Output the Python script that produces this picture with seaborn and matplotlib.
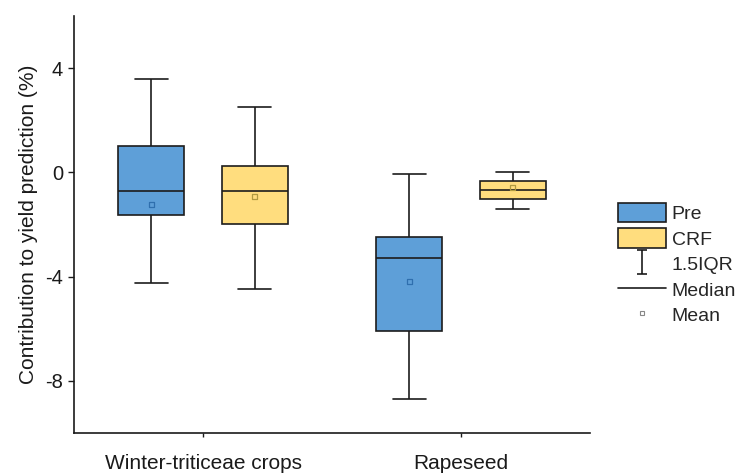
import numpy as np
import pandas as pd
import matplotlib
matplotlib.use("Agg")
import matplotlib.pyplot as plt
from matplotlib.patches import Patch
from matplotlib.lines import Line2D
from matplotlib.path import Path
import seaborn as sns

# ---- data ----
crops = ["Winter-triticeae crops", "Rapeseed"]
series = ["Pre", "CRF"]
# five-number summaries per crop: [lower whisker, Q1, median, Q3, upper whisker]
pre_summary = [[-4.24, -1.63, -0.72, 1.00, 3.58],
               [-8.68, -6.10, -3.29, -2.49, -0.06]]
crf_summary = [[-4.49, -1.97, -0.72, 0.24, 2.51],
               [-1.40, -1.00, -0.66, -0.33, 0.02]]
pre_mean = [-1.23, -4.18]
crf_mean = [-0.92, -0.58]
yticks = [-8, -4, 0, 4]

box_colors = {"Pre": "#5E9FD8", "CRF": "#FFDD7E"}
mean_colors = {"Pre": "#2F6FAE", "CRF": "#B09A40"}

rows = []
for s, summ in zip(series, [pre_summary, crf_summary]):
    for c, vals in zip(crops, summ):
        for v in vals:
            rows.append({"crop": c, "series": s, "value": v})
df = pd.DataFrame(rows)

mrows = []
for s, means in zip(series, [pre_mean, crf_mean]):
    for c, m in zip(crops, means):
        mrows.append({"crop": c, "series": s, "value": m})
dfm = pd.DataFrame(mrows)

sns.set_theme(style="ticks")
plt.rcParams["font.family"] = ["Liberation Sans", "DejaVu Sans"]

fig = plt.figure(figsize=(7.44, 4.74), dpi=100)
ax = fig.add_axes([0.0995, 0.0865, 0.6935, 0.8795])

sns.boxplot(data=df, x="crop", y="value", hue="series", order=crops,
            hue_order=series, palette=box_colors, saturation=1, whis=(0, 100),
            width=0.8, gap=0.36, linecolor="#1c1c1c", linewidth=1.2,
            fliersize=0, legend=False, ax=ax)

n_before = len(ax.collections)
sns.stripplot(data=dfm, x="crop", y="value", hue="series", order=crops,
              hue_order=series, palette=mean_colors, marker="s", size=4,
              jitter=False, dodge=True, legend=False, ax=ax, zorder=6)
for coll in ax.collections[n_before:]:
    fc = coll.get_facecolors()
    coll.set_edgecolors(fc)
    coll.set_facecolors("none")
    coll.set_linewidths(0.9)

ax.set_ylim(-10, 6)
ax.set_xlim(-0.5, 1.5)
ax.set_yticks(yticks)
ax.set_yticklabels([str(t) for t in yticks])
ax.set_xlabel("")
ax.set_ylabel("Contribution to yield prediction (%)", fontsize=15,
              color="#1a1a1a", labelpad=5)
ax.tick_params(axis="y", labelsize=14.5, colors="#1a1a1a", length=4, width=1, pad=4)
ax.tick_params(axis="x", labelsize=15, colors="#1a1a1a", length=3, width=1, pad=12)
for sp in ["left", "bottom"]:
    ax.spines[sp].set_linewidth(1.2)
    ax.spines[sp].set_color("#1a1a1a")
sns.despine(ax=ax)

ibeam = Path([(-0.45, 1), (0.45, 1), (0, 1), (0, -1), (-0.45, -1), (0.45, -1)],
             [Path.MOVETO, Path.LINETO, Path.MOVETO, Path.LINETO, Path.MOVETO, Path.LINETO])
handles = [
    Patch(facecolor=box_colors["Pre"], edgecolor="#1c1c1c", linewidth=1.2),
    Patch(facecolor=box_colors["CRF"], edgecolor="#1c1c1c", linewidth=1.2),
    Line2D([], [], linestyle="none", marker=ibeam, markersize=17,
           markeredgecolor="#1c1c1c", markerfacecolor="none", markeredgewidth=1.2),
    Line2D([], [], color="#1c1c1c", linewidth=1.2),
    Line2D([], [], linestyle="none", marker="s", markersize=3.5,
           markeredgecolor="#888888", markerfacecolor="none", markeredgewidth=0.8),
]
labels = ["Pre", "CRF", "1.5IQR", "Median", "Mean"]
fig.legend(handles, labels, loc="upper left", bbox_to_anchor=(0.823, 0.585),
           frameon=False, fontsize=14, handlelength=2.45, handleheight=1.2,
           labelspacing=0.26, handletextpad=0.3, borderaxespad=0, borderpad=0.3)

fig.savefig("out.png", dpi=100)
